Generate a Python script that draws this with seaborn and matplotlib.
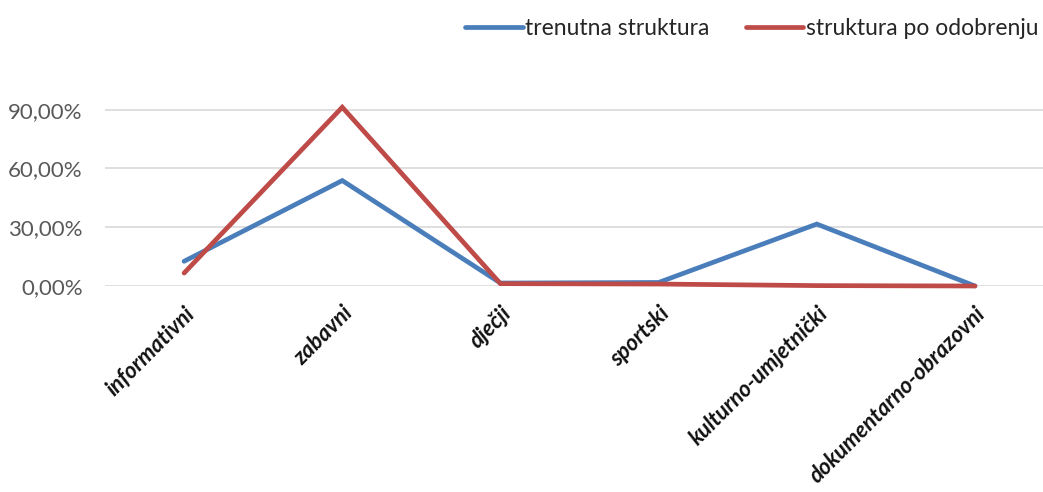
"""
plot.py - struktura programa: trenutna vs. po odobrenju
"""

import pandas as pd
import matplotlib.pyplot as plt
import seaborn as sns

# -----------------------------
# Data
# -----------------------------
categories = ["informativni", "zabavni", "dječji", "sportski",
              "kulturno-umjetnički", "dokumentarno-obrazovni"]
trenutna = [0.126, 0.538, 0.015, 0.018, 0.316, 0.0]
po_odobrenju = [0.066, 0.912, 0.012, 0.010, 0.002, 0.0]
series_names = ["trenutna struktura", "struktura po odobrenju"]
y_ticks = [0.0, 0.3, 0.6, 0.9]

BLUE = "#4A7EBB"
RED = "#BE4B48"


def build_frame():
    rows = []
    for name, vals in zip(series_names, [trenutna, po_odobrenju]):
        for cat, v in zip(categories, vals):
            rows.append({"kategorija": cat, "udio": v, "serija": name})
    return pd.DataFrame(rows)


def main():
    sns.set_theme(style="white")
    plt.rcParams["font.family"] = ["Lato", "DejaVu Sans"]

    df = build_frame()

    fig = plt.figure(figsize=(10.43, 4.92), dpi=100)
    ax = fig.add_axes([105 / 1043, 206 / 492, 938 / 1043, 196 / 492])

    sns.lineplot(data=df, x="kategorija", y="udio", hue="serija",
                 palette=[BLUE, RED], linewidth=3.4, sort=False,
                 ax=ax, legend=False)
    for line in ax.lines:
        line.set_clip_on(False)
        line.set_solid_joinstyle("miter")

    ax.set_xlim(-0.5, 5.43)
    ax.set_ylim(0, 1.0)
    ax.set_yticks(y_ticks)
    ax.set_yticklabels([f"{t * 100:.2f}%".replace(".", ",") for t in y_ticks])
    ax.yaxis.grid(True, color="#D9D9D9", linewidth=1.2)
    ax.set_axisbelow(True)
    for s in ax.spines.values():
        s.set_visible(False)

    ax.tick_params(axis="y", length=0, pad=16, labelsize=16, labelcolor="#595959")
    ax.tick_params(axis="x", length=0, pad=12)
    ax.set_xticks(range(len(categories)))
    ax.set_xticklabels(categories, rotation=45, ha="right",
                       rotation_mode="anchor", fontsize=16,
                       fontweight="bold", fontstyle="italic", color="#111111")
    ax.set_xlabel("")
    ax.set_ylabel("")

    handles = [plt.Line2D([], [], color=c, linewidth=3.4) for c in [BLUE, RED]]
    fig.legend(handles, series_names, loc="upper right",
               bbox_to_anchor=(1.015, 1.005), ncol=2, frameon=False,
               fontsize=16.5, handlelength=2.5, handletextpad=0.1,
               columnspacing=1.6, labelcolor="#262626")

    fig.savefig("out.png", dpi=100)
    plt.close(fig)


if __name__ == "__main__":
    main()
